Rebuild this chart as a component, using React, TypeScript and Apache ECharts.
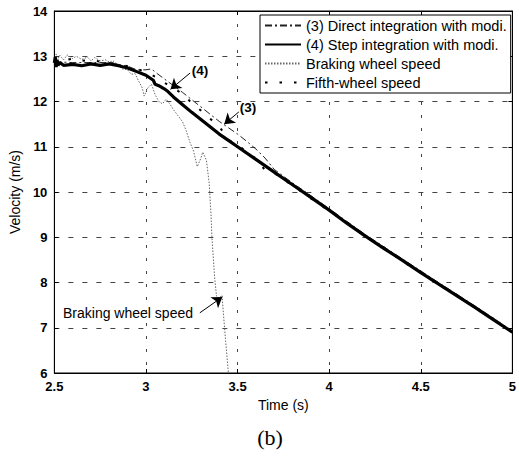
import React, { useEffect, useRef } from "react";
import * as echarts from "echarts";

// ---- data ----
const stepT = [2.5, 2.505, 2.51, 2.515, 2.52, 2.53, 2.55, 2.6, 2.65, 2.7, 2.75, 2.8, 2.85, 2.9, 2.95, 3.0, 3.04, 3.05, 3.07, 3.1, 3.12, 3.15, 3.2, 3.25, 3.3, 3.35, 3.4, 3.45, 3.5, 3.6, 3.7, 3.8, 3.9, 4.0, 4.1, 4.2, 4.3, 4.4, 4.5, 4.6, 4.7, 4.8, 4.9, 5.0];
const stepV = [12.85, 12.98, 12.76, 12.92, 12.8, 12.86, 12.8, 12.82, 12.79, 12.83, 12.8, 12.83, 12.79, 12.74, 12.66, 12.58, 12.47, 12.38, 12.35, 12.28, 12.22, 12.1, 11.93, 11.76, 11.6, 11.44, 11.28, 11.14, 11.0, 10.72, 10.44, 10.16, 9.88, 9.6, 9.3, 9.02, 8.75, 8.49, 8.22, 7.96, 7.7, 7.44, 7.17, 6.9];

const directT = [2.5, 2.6, 2.7, 2.8, 2.9, 2.95, 3.0, 3.03, 3.06, 3.1, 3.15, 3.2, 3.25, 3.3, 3.35, 3.4, 3.45, 3.5, 3.55, 3.6, 3.65, 3.7, 3.8, 3.9, 4.0, 4.2, 4.4, 4.6, 4.8, 5.0];
const directV = [12.88, 12.86, 12.86, 12.86, 12.78, 12.7, 12.7, 12.72, 12.62, 12.5, 12.35, 12.2, 12.04, 11.88, 11.72, 11.56, 11.42, 11.28, 11.12, 10.95, 10.75, 10.5, 10.2, 9.92, 9.63, 9.05, 8.52, 7.99, 7.47, 6.93];

const brakeT = [2.5, 2.51, 2.52, 2.53, 2.55, 2.57, 2.6, 2.62, 2.65, 2.68, 2.7, 2.72, 2.75, 2.78, 2.8, 2.82, 2.85, 2.87, 2.9, 2.92, 2.94, 2.96, 2.98, 2.99, 3.01, 3.03, 3.05, 3.07, 3.09, 3.11, 3.13, 3.15, 3.18, 3.2, 3.22, 3.24, 3.26, 3.28, 3.3, 3.31, 3.33, 3.345, 3.355, 3.36, 3.375, 3.385, 3.4, 3.415, 3.425, 3.435, 3.45];
const brakeV = [12.9, 13.05, 12.95, 13.02, 12.92, 13.03, 12.95, 13.0, 12.93, 12.98, 12.9, 12.97, 12.9, 12.92, 12.87, 12.9, 12.8, 12.72, 12.7, 12.6, 12.62, 12.45, 12.3, 12.12, 12.3, 12.38, 12.15, 12.0, 11.95, 12.05, 11.95, 11.82, 11.66, 11.55, 11.35, 11.1, 10.9, 10.56, 10.75, 10.88, 10.7, 10.2, 9.5, 9.0, 8.1, 7.7, 7.65, 7.72, 7.2, 6.7, 6.0];

const fifthT = [2.5, 2.55, 2.6, 2.65, 2.7, 2.75, 2.8, 2.85, 2.9, 2.95, 3.0, 3.05, 3.1, 3.15, 3.2, 3.25, 3.3, 3.35, 3.4, 3.45, 3.5, 3.55, 3.6, 3.65, 3.7, 3.8, 3.9, 4.0, 4.1, 4.2, 4.3, 4.4, 4.5, 4.6, 4.7, 4.8, 4.9, 5.0];
const fifthV = [12.95, 12.9, 12.95, 12.9, 12.92, 12.88, 12.86, 12.82, 12.78, 12.72, 12.65, 12.55, 12.42, 12.28, 12.18, 11.96, 11.8, 11.62, 11.45, 11.15, 11.05, 10.88, 10.74, 10.48, 10.42, 10.14, 9.86, 9.58, 9.32, 9.0, 8.77, 8.46, 8.24, 7.94, 7.72, 7.42, 7.19, 6.88];

const xTicks = [2.5, 3, 3.5, 4, 4.5, 5];
const yTicks = [6, 7, 8, 9, 10, 11, 12, 13, 14];

const seriesNames = [
  "(3) Direct integration with modi.",
  "(4) Step integration with modi.",
  "Braking wheel speed",
  "Fifth-wheel speed",
];

// annotation arrows (data coordinates: tail -> head)
const arrow4 = [[3.241, 12.63], [3.134, 12.27]];
const arrow3 = [[3.507, 11.77], [3.427, 11.5]];
const arrowBrake = [[3.294, 7.33], [3.417, 7.68]];

const zip = (t: number[], v: number[]) => t.map((x, i) => [x, v[i]]);

const FONT = "'Liberation Sans', Arial, Helvetica, sans-serif";

export default function App() {
  const ref = useRef<HTMLDivElement>(null);
  useEffect(() => {
    if (!ref.current) return;
    const chart = echarts.init(ref.current, undefined, { renderer: "svg" });
    const arrowLine = (a: number[][]) => [[{ coord: a[0] }, { coord: a[1] }]];
    const markArrows = {
      silent: true,
      symbol: ["none", "arrow"],
      symbolSize: 10,
      label: { show: false },
      lineStyle: { color: "#000", width: 1, type: "solid" },
      itemStyle: { color: "#000" },
      emphasis: { disabled: true },
      data: [...arrowLine(arrow4), ...arrowLine(arrow3), ...arrowLine(arrowBrake)],
    };
    const axisCommon = {
      axisLine: { show: true, lineStyle: { color: "#000", width: 1 } },
      axisTick: { show: true, inside: true, length: 4, lineStyle: { color: "#000" } },
    };
    chart.setOption({
      animation: false,
      backgroundColor: "#fff",
      grid: { left: 46, right: 4, top: 11, bottom: 83, show: true, borderColor: "#000", borderWidth: 1, backgroundColor: "transparent" },
      legend: {
        show: true,
        data: seriesNames,
        orient: "vertical",
        left: 260,
        top: 15,
        padding: [3, 4, 3, 4],
        itemWidth: 36,
        itemHeight: 14,
        itemGap: 4,
        backgroundColor: "#fff",
        borderColor: "#000",
        borderWidth: 1,
        itemStyle: { color: "transparent", borderWidth: 0 },
        textStyle: { fontFamily: FONT, fontSize: 14.5, color: "#000", lineHeight: 14 },
        selectedMode: false,
      },
      xAxis: [
        {
          type: "value",
          min: 2.5,
          max: 5,
          interval: 0.5,
          name: "Time (s)",
          nameLocation: "middle",
          nameGap: 25,
          nameTextStyle: { fontFamily: FONT, fontSize: 14, color: "#000" },
          ...axisCommon,
          axisLabel: { fontFamily: FONT, fontSize: 13, fontWeight: "bold", color: "#000", margin: 7, formatter: (v: number) => (xTicks.includes(v) ? String(v) : "") },
          splitLine: { show: true, lineStyle: { color: "#444", width: 1, type: [3, 10] } },
        },
        {
          type: "value",
          position: "top",
          min: 2.5,
          max: 5,
          interval: 0.5,
          ...axisCommon,
          axisLabel: { show: false },
          splitLine: { show: false },
        },
      ],
      yAxis: [
        {
          type: "value",
          min: 6,
          max: 14,
          interval: 1,
          name: "Velocity (m/s)",
          nameLocation: "middle",
          nameGap: 25,
          nameTextStyle: { fontFamily: FONT, fontSize: 14, color: "#000" },
          ...axisCommon,
          axisLabel: { fontFamily: FONT, fontSize: 13, fontWeight: "bold", color: "#000", margin: 7, formatter: (v: number) => (yTicks.includes(v) ? String(v) : "") },
          splitLine: { show: true, lineStyle: { color: "#444", width: 1, type: [5, 9] } },
        },
        {
          type: "value",
          position: "right",
          min: 6,
          max: 14,
          interval: 1,
          ...axisCommon,
          axisLabel: { show: false },
          splitLine: { show: false },
        },
      ],
      series: [
        {
          name: seriesNames[0],
          type: "line",
          data: zip(directT, directV),
          symbol: "none",
          lineStyle: { color: "#222", width: 1, type: [7, 3, 2, 3] },
          z: 3,
        },
        {
          name: seriesNames[1],
          type: "line",
          data: zip(stepT, stepV),
          symbol: "none",
          lineStyle: { color: "#000", width: 3.2 },
          z: 4,
          markLine: markArrows,
        },
        {
          name: seriesNames[2],
          type: "line",
          data: zip(brakeT, brakeV),
          symbol: "none",
          lineStyle: { color: "#666", width: 1, type: [1.5, 1.5] },
          z: 2,
        },
        {
          name: seriesNames[3],
          type: "line",
          data: zip(fifthT, fifthV),
          symbol: "none",
          lineStyle: { color: "#000", width: 2, type: [2.5, 12] },
          z: 5,
        },
      ],
      graphic: [
        { type: "text", x: 200, y: 70, style: { text: "(4)", fontFamily: FONT, fontSize: 13.5, fontWeight: "bold", fill: "#000", align: "center", verticalAlign: "middle" } },
        { type: "text", x: 248, y: 107, style: { text: "(3)", fontFamily: FONT, fontSize: 13.5, fontWeight: "bold", fill: "#000", align: "center", verticalAlign: "middle" } },
        { type: "text", x: 193, y: 313, style: { text: "Braking wheel speed", fontFamily: FONT, fontSize: 14, fill: "#000", align: "right", verticalAlign: "middle" } },
        { type: "text", x: 270, y: 437, style: { text: "(b)", fontFamily: "'Liberation Serif', 'Times New Roman', serif", fontSize: 22, fill: "#000", align: "center", verticalAlign: "middle" } },
      ],
    });
    return () => chart.dispose();
  }, []);
  return <div ref={ref} style={{ width: 519, height: 456, position: "absolute", left: 0, top: 0 }} />;
}
